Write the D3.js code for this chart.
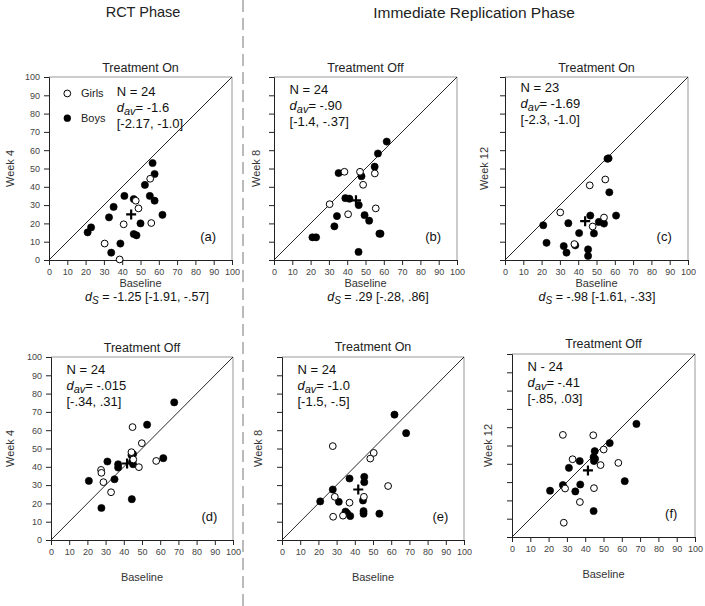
<!DOCTYPE html>
<html><head><meta charset="utf-8">
<script src="https://cdn.jsdelivr.net/npm/d3@7"></script>
<style>
body{margin:0;background:#fff;}
svg{display:block;font-family:"Liberation Sans",Arial,Helvetica,sans-serif;}
</style></head>
<body><svg id="c" width="705" height="606"></svg>
<script>
// ---------- DATA ----------
const ticks = [0,10,20,30,40,50,60,70,80,90,100];
const phaseLabels = ["RCT Phase","Immediate Replication Phase"];
const panelLetters = ["(a)","(b)","(c)","(d)","(e)","(f)"];
const panelTitles = ["Treatment On","Treatment Off","Treatment On","Treatment Off","Treatment On","Treatment Off"];
const yTitles = ["Week 4","Week 8","Week 12","Week 4","Week 8","Week 12"];
const nLabels = ["N = 24","N = 24","N = 23","N = 24","N = 24","N - 24"];
const davValues = ["-1.6","-.90","-1.69","-.015","-1.0","-.41"];
const ciLabels = ["[-2.17, -1.0]","[-1.4, -.37]","[-2.3, -1.0]","[-.34, .31]","[-1.5, -.5]","[-.85, .03]"];
const dsValues = ["-1.25 [-1.91, -.57]",".29 [-.28, .86]","-.98 [-1.61, -.33]"];
const legendLabels = ["Girls","Boys"];

// [baseline, week]
const girlsA = [[30.4,9],[38.6,0.3],[40.8,19.5],[47.4,32.4],[48.9,28.2],[55.3,44.4],[55.9,20.2]];
const boysA  = [[21.1,15.1],[23,17.8],[34,4],[35.3,29],[32.8,23.3],[39,9],[41.2,35],[46.3,33.3],[46.3,14.2],[47.8,13.5],[50,20],[52.4,41],[55.1,35],[56.6,53],[57.7,47],[57.7,32.4],[62,24.7]];
const meanA  = [44.9,24.9];

const girlsB = [[30.4,30.5],[38.5,48.2],[40.5,25],[47,48.2],[48.7,41.1],[55.1,47.3],[55.6,28.2]];
const boysB  = [[21,12.4],[23,12.4],[33,18.4],[34.4,24],[35.3,47.5],[39,33.8],[41.2,33.5],[46.3,30],[46.2,4.4],[47.8,45.8],[49.5,24.5],[52,21.5],[55,51],[56.8,58.2],[57.6,14.4],[58.2,14.4],[61.6,64.7]];
const meanB  = [44.8,32.6];

const girlsC = [[30.2,26],[37.9,8.7],[46.3,40.8],[47.9,18.3],[54.1,23.2],[54.8,44]];
const boysC  = [[20.9,19],[22.7,9.4],[32.1,7.6],[33.6,4],[34.6,20.1],[38.4,8],[40.5,14.7],[45.4,5.8],[45.4,2.2],[46.6,24.3],[48.6,14.5],[51.3,20.8],[54.1,19.9],[56,55.3],[56.6,55.6],[57,37],[60.7,24.3]];
const meanC  = [43.8,21.2];

const girlsD = [[27.5,38.3],[27.7,36.7],[28.8,31.6],[33,26.1],[44.8,61.7],[44.2,48],[45.2,44],[48.3,39.8],[49.9,52.9],[57.8,43.2]];
const boysD  = [[20.8,32.3],[27.7,17.5],[31,42.9],[34.9,33.2],[36.9,41.4],[36.9,39.6],[44.2,46.4],[44.4,22.3],[45.1,46.9],[45.1,41.4],[44.6,42.9],[52.8,63],[61.7,44.7],[67.7,75.2]];
const meanD  = [41.8,41.8];

const girlsE = [[27.9,51.3],[29,23.6],[28.1,12.7],[33.5,13.3],[37.1,20.4],[45,23.6],[48.5,44.5],[50.4,47.6],[58.3,29.5]];
const boysE  = [[21,21.1],[27.9,27.6],[31.2,20.9],[34.9,15.5],[35.8,14.6],[37.1,33.6],[37.5,13.1],[44.5,21.6],[45.2,34.5],[45.2,31.6],[44.8,15.8],[44.8,14.4],[53.5,14.4],[61.8,68.5],[68.2,58.4]];
const meanE  = [41.9,27.6];

const girlsF = [[27.8,55.8],[28.3,7.8],[29,26.5],[33.1,42.5],[37.1,19.1],[44.4,55.6],[44.8,26.7],[48.4,39.3],[50.1,47.8],[58.1,40.5]];
const boysF  = [[20.8,25.3],[27.8,28.4],[31.1,37.8],[34.6,24.9],[37,41.5],[37.3,28.7],[44.6,14.2],[44.6,43.6],[44.8,41.5],[45.2,46.9],[45.4,42.7],[53.4,51.3],[61.6,30.5],[68,61.8]];
const meanF  = [41.5,36.4];

const girls = [girlsA,girlsB,girlsC,girlsD,girlsE,girlsF];
const boys  = [boysA,boysB,boysC,boysD,boysE,boysF];
const means = [meanA,meanB,meanC,meanD,meanE,meanF];

// ---------- LAYOUT ----------
const boxes = [
  {x0:49, x1:232, y0:77, y1:260, yLab:true, ytx:10,  tY:67},
  {x0:274,x1:457, y0:77, y1:260, yLab:false,ytx:256, tY:67},
  {x0:505,x1:688, y0:77, y1:260, yLab:false,ytx:484, tY:67},
  {x0:51, x1:233, y0:357,y1:540, yLab:true, ytx:10,  tY:347},
  {x0:282,x1:464, y0:357,y1:540, yLab:false,ytx:258, tY:346},
  {x0:512,x1:695, y0:354,y1:537, yLab:false,ytx:488, tY:343}
];
const svg = d3.select("#c");

// phase headings
svg.append("text").attr("x",143).attr("y",17).attr("text-anchor","middle")
  .attr("font-size",14.5).attr("fill","#222").text(phaseLabels[0]);
svg.append("text").attr("x",474).attr("y",17.5).attr("text-anchor","middle")
  .attr("font-size",15.5).attr("fill","#222").text(phaseLabels[1]);
// dashed divider
svg.append("line").attr("x1",243).attr("x2",243).attr("y1",0).attr("y2",606)
  .attr("stroke","#777").attr("stroke-width",1).attr("stroke-dasharray","12,6");

boxes.forEach((b,i)=>{
  const x = d3.scaleLinear().domain([0,100]).range([b.x0,b.x1]);
  const y = d3.scaleLinear().domain([0,100]).range([b.y1,b.y0]);
  const g = svg.append("g");
  // top/right frame
  g.append("path").attr("d",`M${b.x0},${b.y0}H${b.x1}V${b.y1}`)
    .attr("fill","none").attr("stroke","#999").attr("stroke-width",1);
  // axes
  const xa = g.append("g").attr("transform",`translate(0,${b.y1})`)
    .call(d3.axisBottom(x).tickValues(ticks).tickSize(5).tickPadding(4));
  const ya = g.append("g").attr("transform",`translate(${b.x0},0)`)
    .call(d3.axisLeft(y).tickValues(ticks).tickSize(5).tickPadding(4)
      .tickFormat(b.yLab ? d3.format("d") : ()=>""));
  [xa,ya].forEach(a=>{
    a.select(".domain").attr("stroke","#222");
    a.selectAll(".tick line").attr("stroke","#222");
    a.selectAll("text").attr("font-size",9).attr("fill","#444")
      .attr("font-family","'Liberation Sans',Arial,sans-serif");
  });
  // diagonal
  g.append("line").attr("x1",x(0)).attr("y1",y(0)).attr("x2",x(100)).attr("y2",y(100))
    .attr("stroke","#111").attr("stroke-width",0.9);
  // points
  g.selectAll(".boy").data(boys[i]).join("circle")
    .attr("cx",d=>x(d[0])).attr("cy",d=>y(d[1])).attr("r",3.6)
    .attr("fill","#000").attr("stroke","#000").attr("stroke-width",0.6);
  g.selectAll(".girl").data(girls[i]).join("circle")
    .attr("cx",d=>x(d[0])).attr("cy",d=>y(d[1])).attr("r",3.4)
    .attr("fill","#fff").attr("stroke","#000").attr("stroke-width",1);
  // mean cross
  const m = means[i];
  g.append("path").attr("d",`M${x(m[0])-5},${y(m[1])}h10M${x(m[0])},${y(m[1])-5}v10`)
    .attr("stroke","#000").attr("stroke-width",2.2);
  // titles
  g.append("text").attr("x",(b.x0+b.x1)/2).attr("y",b.tY+4.5).attr("text-anchor","middle")
    .attr("font-size",12.5).attr("fill","#222").text(panelTitles[i]);
  g.append("text").attr("transform",`translate(${b.ytx},${(b.y0+b.y1)/2}) rotate(-90)`)
    .attr("text-anchor","middle").attr("dy","0.35em")
    .attr("font-size",11).attr("fill","#333").text(yTitles[i]);
  g.append("text").attr("x",(b.x0+b.x1)/2).attr("y", i<3 ? b.y1+27 : b.y1+41)
    .attr("text-anchor","middle").attr("font-size",11).attr("fill","#333").text("Baseline");
  // stats
  const sx = i===0 ? x(37) : x(8.5);
  const sy = i===0 ? y(89.5) : (i===2 ? y(92) : y(90.5));
  const st = g.append("g").attr("font-size",13).attr("fill","#111");
  st.append("text").attr("x",sx).attr("y",sy).text(nLabels[i]);
  const t2 = st.append("text").attr("x",sx).attr("y",sy+16);
  t2.append("tspan").attr("font-style","italic").text("d");
  t2.append("tspan").attr("font-style","italic").attr("font-size",11).attr("dy",3).text("av");
  t2.append("tspan").attr("dy",-3).text("= " + davValues[i]);
  st.append("text").attr("x",sx).attr("y",sy+32).text(ciLabels[i]);
  // letter
  g.append("text").attr("x",x(87)).attr("y",y(13)).attr("text-anchor","middle")
    .attr("dy","0.35em").attr("font-size",13).attr("fill","#111").text(panelLetters[i]);
  // legend in panel a
  if(i===0){
    const lg = g.append("g").attr("font-size",11).attr("fill","#222");
    lg.append("circle").attr("cx",x(10)).attr("cy",y(91)).attr("r",3.4)
      .attr("fill","#fff").attr("stroke","#000");
    lg.append("text").attr("x",x(17.5)).attr("y",y(91)).attr("dy","0.35em").text(legendLabels[0]);
    lg.append("circle").attr("cx",x(10)).attr("cy",y(77.5)).attr("r",3.6).attr("fill","#000");
    lg.append("text").attr("x",x(17.5)).attr("y",y(77.5)).attr("dy","0.35em").text(legendLabels[1]);
  }
});

// d_s labels
const dsX = [147,378,597];
dsX.forEach((cx,k)=>{
  const t = svg.append("text").attr("x",cx).attr("y",301).attr("text-anchor","middle")
    .attr("font-size",12.5).attr("fill","#111");
  t.append("tspan").attr("font-style","italic").text("d");
  t.append("tspan").attr("font-style","italic").attr("font-size",10).attr("dy",3).text("S");
  t.append("tspan").attr("dy",-3).text(" = " + dsValues[k]);
});
</script></body></html>
